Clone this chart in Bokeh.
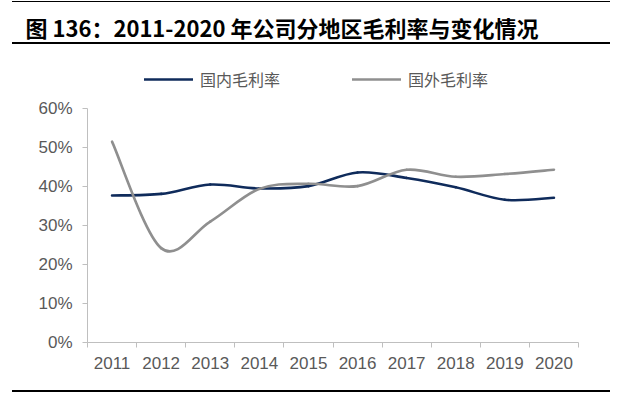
from bokeh.plotting import figure
from bokeh.models import (Range1d, FixedTicker, NumeralTickFormatter, Legend, LegendItem,
                          ColumnDataSource, InlineStyleSheet)
from bokeh.embed import file_html
from bokeh.resources import INLINE

years = ["2011", "2012", "2013", "2014", "2015", "2016", "2017", "2018", "2019", "2020"]
domestic = [0.377, 0.381, 0.405, 0.395, 0.401, 0.436, 0.422, 0.398, 0.366, 0.371]
overseas = [0.515, 0.242, 0.310, 0.394, 0.407, 0.401, 0.443, 0.425, 0.432, 0.443]
series_names = ["国内毛利率", "国外毛利率"]
colors = ["#0F2B5B", "#8F8F8F"]
y_ticks = [0.0, 0.1, 0.2, 0.3, 0.4, 0.5, 0.6]
title_text = "图 136：2011-2020 年公司分地区毛利率与变化情况"

xs = list(range(1, len(years) + 1))

W, H = 640, 393
FRAME_TOP, AXIS_TOP, AXIS_BOTTOM = 46, 108, 342
y_max = y_ticks[-1]
y_end = y_max * (AXIS_BOTTOM - FRAME_TOP) / (AXIS_BOTTOM - AXIS_TOP)

rules_css = InlineStyleSheet(css="""
:host::after {
  content: ""; position: absolute; left: 12px; top: 1px; width: 598px; height: 1px;
  background: #000; z-index: 10; pointer-events: none;
  box-shadow: 0 41px 0 0 #000, 0 42px 0 0 #000, 0 389px 0 0 #000, 0 390px 0 0 #000;
}
""")

p = figure(width=W, height=H, output_backend="svg", toolbar_location=None,
           x_range=Range1d(0.5, len(years) + 0.5), y_range=Range1d(0, y_end),
           min_border_left=87, min_border_right=62, min_border_top=FRAME_TOP,
           min_border_bottom=H - AXIS_BOTTOM, stylesheets=[rules_css])
p.outline_line_color = None
p.grid.visible = False
p.background_fill_color = "white"
p.border_fill_color = "white"

p.title.text = title_text
p.title.text_font = "Noto Sans CJK SC"
p.title.text_font_style = "bold"
p.title.text_font_size = "22px"
p.title.text_color = "#000000"
p.title.align = "left"
p.title.offset = -62
p.title.standoff = 8


def bezier_source(xv, yv):
    n = len(xv)
    d = dict(x0=[], y0=[], x1=[], y1=[], cx0=[], cy0=[], cx1=[], cy1=[])
    for i in range(n - 1):
        pm = i - 1 if i > 0 else 0
        pn = i + 2 if i + 2 < n else n - 1
        d["x0"].append(xv[i]); d["y0"].append(yv[i])
        d["x1"].append(xv[i + 1]); d["y1"].append(yv[i + 1])
        d["cx0"].append(xv[i] + (xv[i + 1] - xv[pm]) / 6)
        d["cy0"].append(yv[i] + (yv[i + 1] - yv[pm]) / 6)
        d["cx1"].append(xv[i + 1] - (xv[pn] - xv[i]) / 6)
        d["cy1"].append(yv[i + 1] - (yv[pn] - yv[i]) / 6)
    return ColumnDataSource(d)


renderers = []
for vals, col in zip([domestic, overseas], colors):
    r = p.bezier(x0="x0", y0="y0", x1="x1", y1="y1", cx0="cx0", cy0="cy0",
                 cx1="cx1", cy1="cy1", source=bezier_source(xs, vals),
                 line_color=col, line_width=2.6, line_cap="round")
    renderers.append(r)

# axes
ax = p.xaxis[0]
ax.ticker = FixedTicker(ticks=xs, minor_ticks=[x - 0.5 for x in xs] + [len(xs) + 0.5])
ax.major_label_overrides = {x: y for x, y in zip(xs, years)}
ax.major_tick_line_color = None
ax.minor_tick_line_color = "#BFBFBF"
ax.minor_tick_out = 5
ax.minor_tick_in = 0
ax.axis_line_color = "#BFBFBF"
ax.major_label_text_font = "Liberation Sans"
ax.major_label_text_font_size = "17px"
ax.major_label_text_color = "#595959"
ax.major_label_standoff = 8

ay = p.yaxis[0]
ay.ticker = FixedTicker(ticks=y_ticks)
ay.bounds = (0, y_max)
ay.formatter = NumeralTickFormatter(format="0%")
ay.axis_line_color = "#BFBFBF"
ay.major_tick_line_color = "#BFBFBF"
ay.major_tick_out = 5
ay.major_tick_in = 0
ay.minor_tick_line_color = None
ay.major_label_text_font = "Liberation Sans"
ay.major_label_text_font_size = "17px"
ay.major_label_text_color = "#595959"
ay.major_label_standoff = 10

# legend inside the (extended) frame, above the plotted range
legend = Legend(items=[LegendItem(label=n, renderers=[r]) for n, r in zip(series_names, renderers)],
                orientation="horizontal", location=(57, 251),
                glyph_width=49, glyph_height=20, label_height=20, label_standoff=7,
                spacing=72, padding=0, margin=0, border_line_color=None,
                background_fill_alpha=0, label_text_font="Noto Sans CJK SC",
                label_text_font_size="16px", label_text_color="#595959")
p.add_layout(legend, "center")

with open("out.html", "w") as f:
    f.write(file_html(p, INLINE))
